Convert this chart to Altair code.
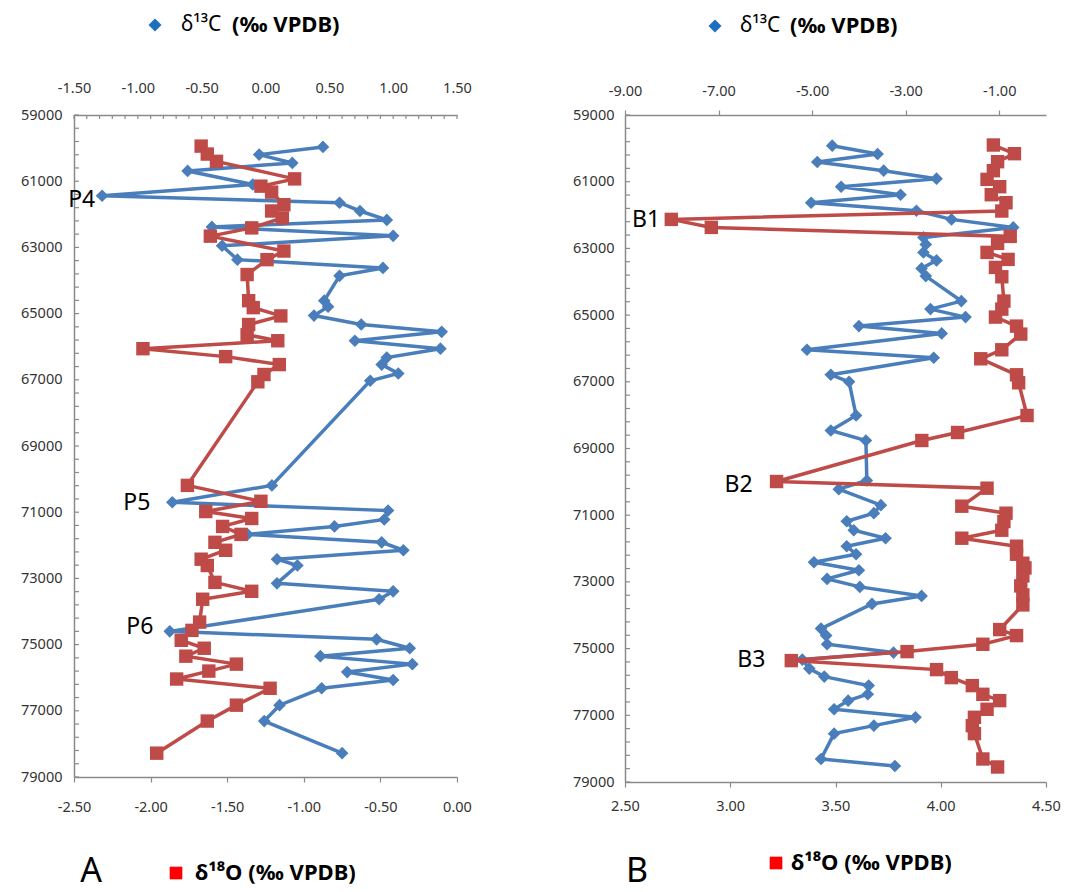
import altair as alt
import pandas as pd

# ---------------- Panel A data ----------------
a_c_depth = [59965, 60197, 60448, 60690, 61100, 61440, 61650, 61900, 62170, 62380, 62650, 62950,
             63370, 63620, 63860, 64610, 64790, 65060, 65330, 65550, 65820, 66060, 66330, 66540,
             66810, 67030, 70190, 70700, 70950, 71220, 71430, 71670, 71910, 72150, 72420, 72610,
             73150, 73390, 73630, 74600, 74840, 75110, 75350, 75590, 75830, 76070, 76320, 76830,
             77310, 78280]
a_c_val = [0.45, -0.05, 0.21, -0.61, -0.10, -1.28, 0.58, 0.74, 0.95, -0.42, 1.00, -0.34,
           -0.22, 0.92, 0.58, 0.46, 0.49, 0.38, 0.75, 1.38, 0.70, 1.37, 0.95, 0.91,
           1.04, 0.82, 0.05, -0.73, 0.96, 0.93, 0.54, -0.14, 0.91, 1.08, 0.09, 0.25,
           0.09, 1.00, 0.89, -0.75, 0.87, 1.13, 0.43, 1.15, 0.64, 1.00, 0.44, 0.11,
           -0.01, 0.60]
a_o_depth = [59940, 60180, 60400, 60930, 61150, 61330, 61710, 61900, 62110, 62410, 62660, 63110,
             63370, 63820, 64610, 64820, 65070, 65330, 65640, 65820, 66060, 66300, 66540, 66840,
             67060, 70190, 70670, 70980, 71190, 71430, 71670, 71910, 72150, 72420, 72610, 73120,
             73390, 73630, 74320, 74570, 74870, 75110, 75350, 75590, 75800, 76040, 76320, 76830,
             77310, 78280]
a_o_val = [-1.67, -1.63, -1.57, -1.06, -1.28, -1.21, -1.13, -1.21, -1.14, -1.34, -1.61, -1.13,
           -1.24, -1.37, -1.36, -1.33, -1.15, -1.36, -1.37, -1.17, -2.05, -1.51, -1.16, -1.26,
           -1.30, -1.76, -1.28, -1.64, -1.34, -1.53, -1.41, -1.58, -1.51, -1.67, -1.63, -1.58,
           -1.34, -1.66, -1.68, -1.73, -1.80, -1.65, -1.77, -1.44, -1.62, -1.83, -1.22, -1.44,
           -1.63, -1.96]
a_lab_text = ["P4", "P5", "P6"]
a_lab_x = [-2.45, -2.09, -2.07]
a_lab_depth = [61560, 70735, 74475]

# ---------------- Panel B data ----------------
b_c_depth = [59920, 60170, 60410, 60670, 60910, 61150, 61390, 61630, 61870, 62130, 62370, 62670,
             62880, 63120, 63360, 63600, 63830, 64580, 64820, 65060, 65330, 65550, 66040, 66280,
             66790, 67000, 68010, 68460, 68760, 69960, 70220, 70700, 70940, 71180, 71450, 71690,
             71930, 72170, 72410, 72650, 72910, 73150, 73420, 73660, 74400, 74610, 74870, 75120,
             75330, 75600, 75840, 76110, 76370, 76560, 76820, 77060, 77310, 77550, 78310, 78520]
b_c_val = [-4.57, -3.60, -4.89, -3.47, -2.34, -4.38, -3.11, -5.02, -2.77, -2.02, -0.70, -2.62,
           -2.57, -2.62, -2.34, -2.66, -2.57, -1.81, -2.47, -1.72, -4.00, -2.23, -5.11, -2.40,
           -4.60, -4.21, -4.06, -4.60, -3.85, -3.83, -4.43, -3.53, -3.68, -4.26, -4.11, -3.43,
           -4.26, -4.06, -4.96, -4.00, -4.68, -3.98, -2.66, -3.72, -4.81, -4.70, -4.68, -3.26,
           -5.21, -5.06, -4.74, -3.79, -3.81, -4.23, -4.53, -2.79, -3.68, -4.53, -4.81, -3.23]
b_o_depth = [59900, 60160, 60400, 60670, 60930, 61150, 61390, 61630, 61880, 62130, 62370, 62640,
             62850, 63120, 63330, 63570, 63850, 64580, 64820, 65060, 65330, 65570, 66040, 66310,
             66790, 67030, 68010, 68520, 68760, 69990, 70190, 70730, 70940, 71190, 71450, 71690,
             71930, 72170, 72440, 72580, 72820, 73120, 73390, 73690, 74430, 74610, 74870, 75090,
             75360, 75630, 75870, 76110, 76370, 76560, 76820, 77060, 77310, 77550, 78310, 78550]
b_o_val = [4.25, 4.35, 4.27, 4.25, 4.22, 4.28, 4.24, 4.31, 4.29, 2.72, 2.91, 4.33,
           4.27, 4.22, 4.32, 4.26, 4.29, 4.30, 4.29, 4.26, 4.36, 4.38, 4.29, 4.19,
           4.36, 4.37, 4.41, 4.08, 3.91, 3.22, 4.22, 4.10, 4.31, 4.30, 4.29, 4.10,
           4.36, 4.36, 4.39, 4.40, 4.39, 4.38, 4.39, 4.39, 4.28, 4.36, 4.20, 3.84,
           3.29, 3.98, 4.05, 4.15, 4.20, 4.28, 4.22, 4.16, 4.15, 4.16, 4.20, 4.27]
b_lab_text = ["B1", "B2", "B3"]
b_lab_x = [2.60, 3.04, 3.10]
b_lab_depth = [62134, 70100, 75330]

# ---------------- style ----------------
BLUE = "#4A7EBB"
RED = "#BE4B48"
FONT = "Noto Sans"
AX = "#8A8A8A"
LBL = "#333333"
TICK_FS = 14.5
Y_DOMAIN = [59000, 79000]
Y_LABELS = list(range(59000, 79001, 2000))
Y_TICKS = list(range(59000, 79001, 400))
HYPHEN = "(datum.value < 0 ? '-' : '') + format(abs(datum.value), '.2f')"


def one():
    return pd.DataFrame({"k": [0]})


def txt(px, py, s, size=20, weight="normal", align="left"):
    return alt.Chart(one()).mark_text(
        text=s, fontSize=size, fontWeight=weight, align=align, baseline="middle",
        font=FONT, color="black"
    ).encode(x=alt.value(px), y=alt.value(py))


def sym(px, py, shape, color, size):
    return alt.Chart(one()).mark_point(
        shape=shape, filled=True, color=color, size=size, opacity=1, strokeWidth=0
    ).encode(x=alt.value(px), y=alt.value(py))


def panel(c_depth, c_val, o_depth, o_val, lab_t, lab_x, lab_d,
          c_dom, c_vals, c_minor, top_tick, top_pad,
          o_dom, o_vals, bot_pad, y_pad, W, H, leg):
    ydef = alt.Y("depth:Q",
                 scale=alt.Scale(domain=Y_DOMAIN, reverse=True, nice=False, zero=False),
                 axis=alt.Axis(values=Y_LABELS, format="d", title=None, grid=False,
                               ticks=False, tickSize=0, labelPadding=y_pad,
                               labelFlush=False, domainColor=AX, domainWidth=1.5,
                               labelFont=FONT, labelFontSize=TICK_FS, labelColor=LBL))
    xc = alt.X("v:Q", scale=alt.Scale(domain=c_dom, nice=False, zero=False),
               axis=alt.Axis(orient="top", values=c_vals, labelExpr=HYPHEN, title=None,
                             grid=False, ticks=top_tick > 0, tickSize=top_tick,
                             tickColor=AX, tickWidth=1.2, labelFlush=False,
                             labelPadding=top_pad, domainColor=AX, domainWidth=1.5,
                             labelFont=FONT, labelFontSize=TICK_FS, labelColor=LBL))
    xo = alt.X("v:Q", scale=alt.Scale(domain=o_dom, nice=False, zero=False),
               axis=alt.Axis(orient="bottom", values=o_vals, labelExpr=HYPHEN, title=None,
                             grid=False, ticks=True, tickSize=5, tickColor=AX,
                             tickWidth=1.2, labelPadding=bot_pad, labelFlush=False,
                             domainColor=AX, domainWidth=1.5, labelFont=FONT,
                             labelFontSize=TICK_FS, labelColor=LBL))

    dc = pd.DataFrame({"depth": c_depth, "v": c_val})
    do = pd.DataFrame({"depth": o_depth, "v": o_val})
    dl = pd.DataFrame({"depth": lab_d, "v": lab_x, "t": lab_t})

    c_base = alt.Chart(dc).encode(x=xc, y=ydef, order=alt.Order("depth:Q"))
    o_base = alt.Chart(do).encode(x=xo, y=ydef, order=alt.Order("depth:Q"))

    c_parts = [c_base.mark_line(color=BLUE, strokeWidth=3.5),
               c_base.mark_point(shape="diamond", filled=True, size=160, color=BLUE,
                                 opacity=1)]
    if c_minor:
        c_parts.insert(0, alt.Chart(pd.DataFrame({"v": c_minor})).mark_rule(
            color=AX, strokeWidth=1.2).encode(x=xc, y=alt.value(0), y2=alt.value(4)))
    c_layer = alt.layer(*c_parts)

    o_layer = alt.layer(
        o_base.mark_line(color=RED, strokeWidth=3.5),
        o_base.mark_point(shape="square", filled=True, size=180, color=RED, opacity=1),
        alt.Chart(dl).mark_text(font=FONT, fontSize=23, color="black", align="center",
                                baseline="middle").encode(x=xo, y=ydef, text="t:N"),
    )

    yt = alt.Chart(pd.DataFrame({"depth": Y_TICKS})).mark_rule(
        color=AX, strokeWidth=1.2).encode(y=ydef, x=alt.value(0), x2=alt.value(5))

    extras = [
        sym(leg["td"][0], leg["td"][1], "diamond", "#1F6FC0", 170),
        txt(leg["tt"][0], leg["tt"][1], "δ¹³C", 21, "normal"),
        txt(leg["tb"][0], leg["tb"][1], "(‰ VPDB)", 22, "bold"),
        sym(leg["bs"][0], leg["bs"][1], "square", "#FF0000", 160),
        txt(leg["bt"][0], leg["bt"][1], "δ¹⁸O (‰ VPDB)", 22, "bold"),
        txt(leg["L"][0], leg["L"][1], leg["letter"], 34, "normal", "center"),
    ]

    return alt.layer(yt, c_layer, o_layer, *extras).resolve_scale(
        x="independent").properties(width=W, height=H)


legA = {"td": (81, -90), "tt": (107, -90), "tb": (158, -90),
        "bs": (102, 758), "bt": (121, 758), "L": (17, 757), "letter": "A"}
legB = {"td": (90, -89), "tt": (115, -89), "tb": (165, -89),
        "bs": (151, 748), "bt": (166, 748), "L": (12, 757), "letter": "B"}

A = panel(a_c_depth, a_c_val, a_o_depth, a_o_val, a_lab_text, a_lab_x, a_lab_depth,
          [-1.5, 1.5], [-1.5, -1.0, -0.5, 0.0, 0.5, 1.0, 1.5],
          [round(-1.5 + 0.1 * i, 1) for i in range(31)], 0, 20,
          [-2.5, 0.0], [-2.5, -2.0, -1.5, -1.0, -0.5, 0.0], 18, 12, 383, 662, legA)

B = panel(b_c_depth, b_c_val, b_o_depth, b_o_val, b_lab_text, b_lab_x, b_lab_depth,
          [-9.0, 0.0], [-9.0, -7.0, -5.0, -3.0, -1.0], None, 5, 12,
          [2.5, 4.5], [2.5, 3.0, 3.5, 4.0, 4.5], 12, 11, 421, 667, legB)

chart = alt.hconcat(A, B, spacing=100).properties(
    padding={"left": 12, "top": 6, "right": 5, "bottom": 10},
    background="white",
).configure_view(stroke=None)

chart.save("out.html", embed_options={"renderer": "svg", "actions": False})
